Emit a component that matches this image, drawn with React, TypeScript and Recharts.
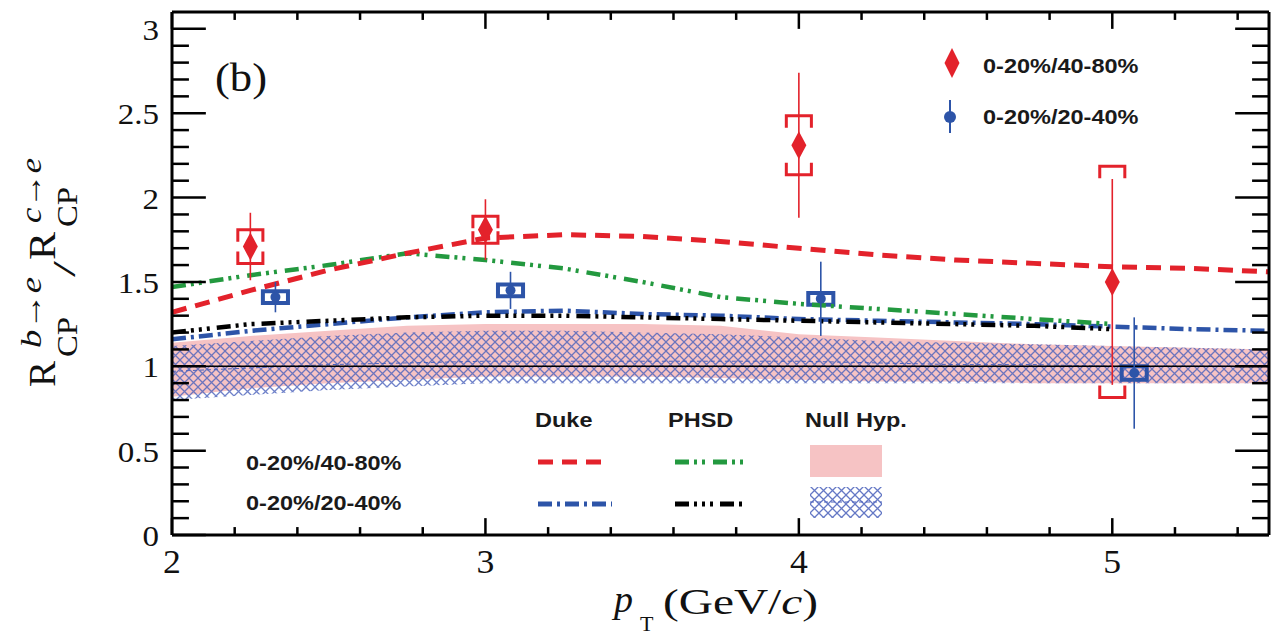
import React from "react";
import {
  Area,
  ComposedChart,
  ErrorBar,
  Line,
  ReferenceArea,
  ReferenceLine,
  Scatter,
  XAxis,
  YAxis,
} from "recharts";

const RED = "#e3222b";
const BLUE = "#2d54a8";
const GREEN = "#23993f";
const PINK = "#f6c3c4";
const HATCH = "#4a61bb";

const SERIF = '"Liberation Serif", "Times New Roman", serif';
const SANS = '"Liberation Sans", Arial, sans-serif';

// model curves, sampled on a common pT grid
const ptGrid = [2.0, 2.25, 2.5, 2.75, 3.0, 3.25, 3.5, 3.75, 4.0, 4.25, 4.5, 4.75, 5.0, 5.25, 5.5];
const duke4080 = [1.32, 1.45, 1.57, 1.67, 1.76, 1.78, 1.77, 1.74, 1.7, 1.66, 1.63, 1.61, 1.59, 1.58, 1.56];
const phsd4080 = [1.47, 1.54, 1.6, 1.67, 1.63, 1.58, 1.5, 1.41, 1.37, 1.34, 1.31, 1.28, 1.25, null, null];
const duke2040 = [1.16, 1.21, 1.25, 1.29, 1.32, 1.33, 1.31, 1.3, 1.28, 1.27, 1.26, 1.25, 1.235, 1.22, 1.21];
const phsd2040 = [1.2, 1.25, 1.27, 1.29, 1.3, 1.3, 1.29, 1.28, 1.27, 1.26, 1.25, 1.24, 1.22, null, null];

// null hypothesis bands
const null4080Lo = [0.82, 0.87, 0.9, 0.92, 0.94, 0.94, 0.94, 0.93, 0.92, 0.91, 0.91, 0.9, 0.9, 0.9, 0.9];
const null4080Hi = [1.14, 1.18, 1.21, 1.24, 1.25, 1.25, 1.25, 1.24, 1.19, 1.17, 1.15, 1.13, 1.12, 1.11, 1.1];
const null2040Lo = [0.8, 0.83, 0.86, 0.88, 0.9, 0.9, 0.9, 0.9, 0.9, 0.9, 0.9, 0.9, 0.9, 0.9, 0.9];
const null2040Hi = [1.12, 1.15, 1.18, 1.2, 1.21, 1.21, 1.2, 1.19, 1.17, 1.15, 1.14, 1.13, 1.12, 1.11, 1.1];
const null2040Mid = [0.97, 0.99, 1.01, 1.02, 1.03, 1.03, 1.03, 1.03, 1.03, 1.02, 1.01, 1.01, 1.0, 1.0, 1.0];

// measurements: 0-20%/40-80%
const pt4080 = [2.25, 3.0, 4.0, 5.0];
const r4080 = [1.71, 1.81, 2.31, 1.5];
const stat4080 = [0.2, 0.18, 0.43, 0.61];
const sys4080 = [0.1, 0.08, 0.175, 0.685];

// measurements: 0-20%/20-40%
const pt2040 = [2.33, 3.08, 4.07, 5.07];
const r2040 = [1.41, 1.45, 1.4, 0.96];
const stat2040 = [0.09, 0.11, 0.22, 0.33];
const sys2040 = [0.035, 0.035, 0.035, 0.04];

const xTicks = [2, 2.2, 2.4, 2.6, 2.8, 3, 3.2, 3.4, 3.6, 3.8, 4, 4.2, 4.4, 4.6, 4.8, 5, 5.2, 5.4];
const yTicks = [
  0, 0.1, 0.2, 0.3, 0.4, 0.5, 0.6, 0.7, 0.8, 0.9, 1, 1.1, 1.2, 1.3, 1.4, 1.5, 1.6, 1.7, 1.8, 1.9,
  2, 2.1, 2.2, 2.3, 2.4, 2.5, 2.6, 2.7, 2.8, 2.9, 3,
];

const X_MIN = 2;
const X_MAX = 5.5;
const Y_MIN = 0;
const Y_MAX = 3.1;

// inward tick lengths, in data units of the perpendicular axis
const X_TICK_MAJOR = 0.1;
const X_TICK_MINOR = 0.047;
const Y_TICK_MAJOR = 0.108;
const Y_TICK_MINOR = 0.054;

const SYS_HALF_WIDTH = 0.04;

const table = ptGrid.map((pt, i) => ({
  pt,
  duke4080: duke4080[i],
  phsd4080: phsd4080[i],
  duke2040: duke2040[i],
  phsd2040: phsd2040[i],
  null4080: [null4080Lo[i], null4080Hi[i]],
  null2040: [null2040Lo[i], null2040Hi[i]],
  null2040Mid: null2040Mid[i],
}));

const points4080 = pt4080.map((pt, i) => ({ pt, r: r4080[i], stat: stat4080[i], sys: sys4080[i] }));
const points2040 = pt2040.map((pt, i) => ({ pt, r: r2040[i], stat: stat2040[i], sys: sys2040[i] }));

const isMajorX = (v: number) => Math.abs(v - Math.round(v)) < 1e-6;
const isMajorY = (v: number) => Math.abs(v * 2 - Math.round(v * 2)) < 1e-6;

const XLabel = ({ x, y, payload }: any) =>
  isMajorX(payload.value) ? (
    <text
      transform={`translate(${x},${y + 38}) scale(1.05,1)`}
      textAnchor="middle"
      fontFamily={SERIF}
      fontSize={34}
      fill="#111"
    >
      {payload.value}
    </text>
  ) : (
    <g />
  );

const YLabel = ({ x, y, payload }: any) =>
  isMajorY(payload.value) ? (
    <text
      transform={`translate(${x - 13},${y + 11}) scale(1.1,1)`}
      textAnchor="end"
      fontFamily={SERIF}
      fontSize={30}
      fill="#111"
    >
      {payload.value}
    </text>
  ) : (
    <g />
  );

// systematic uncertainty drawn as open brackets above and below the point
const bracket = (color: string, sw: number) => (props: any) => {
  const { x, y, width, height } = props;
  const leg = Math.min(12, height / 2);
  const d =
    `M${x},${y + leg} L${x},${y} L${x + width},${y} L${x + width},${y + leg} ` +
    `M${x},${y + height - leg} L${x},${y + height} L${x + width},${y + height} L${x + width},${y + height - leg}`;
  return <path d={d} fill="none" stroke={color} strokeWidth={sw} />;
};

const Diamond = ({ cx, cy }: any) => (
  <polygon points={`${cx},${cy - 14} ${cx + 7.5},${cy} ${cx},${cy + 14} ${cx - 7.5},${cy}`} fill={RED} />
);

const Dot = ({ cx, cy }: any) => <circle cx={cx} cy={cy} r={5} fill={BLUE} />;

const Sans = ({ x, y, children }: any) => (
  <text
    transform={`translate(${x},${y}) scale(1.12,1)`}
    fontFamily={SANS}
    fontWeight="bold"
    fontSize={21}
    fill="#1a1a1a"
  >
    {children}
  </text>
);

function Overlay() {
  return (
    <svg
      width={1279}
      height={636}
      style={{ position: "absolute", left: 0, top: 0, pointerEvents: "none" }}
    >
      <defs>
        <pattern id="xhatch-key" width="9" height="9" patternUnits="userSpaceOnUse">
          <path d="M0,0 L9,9 M9,0 L0,9" stroke={HATCH} strokeWidth={1.3} opacity={0.85} />
        </pattern>
      </defs>

      <text x={215} y={91} fontFamily={SERIF} fontSize={40} textLength={52} lengthAdjust="spacingAndGlyphs" fill="#111">
        (b)
      </text>

      {/* marker legend */}
      <polygon points="952,48 959.5,63 952,78 944.5,63" fill={RED} />
      <Sans x={983} y={73}>0-20%/40-80%</Sans>
      <line x1={950} x2={950} y1={100} y2={133} stroke={BLUE} strokeWidth={2} />
      <circle cx={950} cy={117} r={6} fill={BLUE} />
      <Sans x={983} y={124}>0-20%/20-40%</Sans>

      {/* model legend */}
      <Sans x={535} y={427}>Duke</Sans>
      <Sans x={668} y={427}>PHSD</Sans>
      <Sans x={805} y={427}>Null Hyp.</Sans>
      <Sans x={246} y={470}>0-20%/40-80%</Sans>
      <Sans x={246} y={510}>0-20%/20-40%</Sans>
      <line x1={538} x2={602} y1={462} y2={462} stroke={RED} strokeWidth={5} strokeDasharray="15 9" />
      <line x1={675} x2={745} y1={462} y2={462} stroke={GREEN} strokeWidth={5} strokeDasharray="14 5 3 5 3 8" />
      <rect x={810} y={445} width={72} height={32} fill={PINK} />
      <line x1={538} x2={612} y1={504} y2={504} stroke={BLUE} strokeWidth={5} strokeDasharray="14 5 3 5" />
      <line x1={675} x2={745} y1={504} y2={504} stroke="#000" strokeWidth={5} strokeDasharray="14 5 3 5 3 5 3 7" />
      <rect x={810} y={487} width={72} height={31} fill="url(#xhatch-key)" />
      <line x1={810} x2={882} y1={502} y2={502} stroke={HATCH} strokeWidth={1} strokeDasharray="4 3" />

      {/* y title */}
      <g transform="translate(55,387) rotate(-90)" fontFamily={SERIF} fill="#111">
        <text x={0} y={0} fontSize={38} textLength={26} lengthAdjust="spacingAndGlyphs">R</text>
        <text x={30} y={22} fontSize={30} textLength={40} lengthAdjust="spacingAndGlyphs">CP</text>
        <text x={39} y={-14} fontSize={30} textLength={71} lengthAdjust="spacingAndGlyphs">
          <tspan fontStyle="italic">b</tspan>→<tspan fontStyle="italic">e</tspan>
        </text>
        <text x={110} y={20} fontSize={32} textLength={16} lengthAdjust="spacingAndGlyphs">/</text>
        <text x={127} y={0} fontSize={38} textLength={28} lengthAdjust="spacingAndGlyphs">R</text>
        <text x={160} y={22} fontSize={30} textLength={40} lengthAdjust="spacingAndGlyphs">CP</text>
        <text x={164} y={-14} fontSize={30} textLength={65} lengthAdjust="spacingAndGlyphs">
          <tspan fontStyle="italic">c</tspan>→<tspan fontStyle="italic">e</tspan>
        </text>
      </g>

      {/* x title */}
      <g fontFamily={SERIF} fill="#111">
        <text x={614} y={612} fontSize={38} fontStyle="italic">p</text>
        <text x={640} y={631} fontSize={22}>T</text>
        <text x={663} y={614} fontSize={36} textLength={155} lengthAdjust="spacingAndGlyphs">
          (GeV/<tspan fontStyle="italic">c</tspan>)
        </text>
      </g>
    </svg>
  );
}

export default function App() {
  return (
    <div style={{ position: "absolute", left: 0, top: 0, width: 1279, height: 636, background: "#fff" }}>
      <ComposedChart
        width={1279}
        height={636}
        data={table}
        margin={{ top: 12, right: 10, bottom: 0, left: 0 }}
      >
        <defs>
          <pattern id="xhatch" width="9" height="9" patternUnits="userSpaceOnUse">
            <path d="M0,0 L9,9 M9,0 L0,9" stroke={HATCH} strokeWidth={1.3} opacity={0.8} />
          </pattern>
        </defs>

        <XAxis
          dataKey="pt"
          type="number"
          domain={[X_MIN, X_MAX]}
          ticks={xTicks}
          interval={0}
          height={101}
          allowDataOverflow
          tickSize={0}
          tickMargin={0}
          tickLine={false}
          axisLine={false}
          tick={<XLabel />}
        />
        <YAxis
          type="number"
          domain={[Y_MIN, Y_MAX]}
          ticks={yTicks}
          interval={0}
          width={172}
          allowDataOverflow
          tickSize={0}
          tickMargin={0}
          tickLine={false}
          axisLine={false}
          tick={<YLabel />}
        />

        <Area dataKey="null4080" type="linear" stroke="none" fill={PINK} fillOpacity={1} isAnimationActive={false} />
        <Area dataKey="null2040" type="linear" stroke="none" fill="url(#xhatch)" fillOpacity={1} isAnimationActive={false} />
        <Line
          dataKey="null2040Mid"
          type="linear"
          stroke={HATCH}
          strokeWidth={1}
          strokeDasharray="4 3"
          dot={false}
          isAnimationActive={false}
        />
        <ReferenceLine y={1} stroke="#000" strokeWidth={1.5} />

        <Line dataKey="duke2040" type="linear" stroke={BLUE} strokeWidth={4.5} strokeDasharray="14 5 3 5" dot={false} isAnimationActive={false} />
        <Line dataKey="phsd2040" type="linear" stroke="#000" strokeWidth={4.5} strokeDasharray="14 5 3 5 3 5 3 7" dot={false} isAnimationActive={false} />
        <Line dataKey="phsd4080" type="linear" stroke={GREEN} strokeWidth={4.5} strokeDasharray="14 5 3 5 3 8" dot={false} isAnimationActive={false} />
        <Line dataKey="duke4080" type="linear" stroke={RED} strokeWidth={5} strokeDasharray="15 9" dot={false} isAnimationActive={false} />

        {points4080.map((p) => (
          <ReferenceArea
            key={`s4080-${p.pt}`}
            x1={p.pt - SYS_HALF_WIDTH}
            x2={p.pt + SYS_HALF_WIDTH}
            y1={p.r - p.sys}
            y2={p.r + p.sys}
            ifOverflow="visible"
            shape={bracket(RED, 3)}
          />
        ))}
        {points2040.map((p) => (
          <ReferenceArea
            key={`s2040-${p.pt}`}
            x1={p.pt - SYS_HALF_WIDTH}
            x2={p.pt + SYS_HALF_WIDTH}
            y1={p.r - p.sys}
            y2={p.r + p.sys}
            ifOverflow="visible"
            shape={bracket(BLUE, 4)}
          />
        ))}

        <Scatter data={points4080} dataKey="r" shape={<Diamond />} isAnimationActive={false}>
          <ErrorBar dataKey="stat" direction="y" width={0} stroke={RED} strokeWidth={1.6} />
        </Scatter>
        <Scatter data={points2040} dataKey="r" shape={<Dot />} isAnimationActive={false}>
          <ErrorBar dataKey="stat" direction="y" width={0} stroke={BLUE} strokeWidth={1.6} />
        </Scatter>

        {/* frame with inward ticks on all four sides */}
        {xTicks.map((v) => (
          <ReferenceLine
            key={`xb-${v}`}
            segment={[{ x: v, y: Y_MIN }, { x: v, y: Y_MIN + (isMajorX(v) ? X_TICK_MAJOR : X_TICK_MINOR) }]}
            stroke="#000"
            strokeWidth={2.5}
          />
        ))}
        {xTicks.map((v) => (
          <ReferenceLine
            key={`xt-${v}`}
            segment={[{ x: v, y: Y_MAX }, { x: v, y: Y_MAX - (isMajorX(v) ? X_TICK_MAJOR : X_TICK_MINOR) }]}
            stroke="#000"
            strokeWidth={2.5}
          />
        ))}
        {yTicks.map((v) => (
          <ReferenceLine
            key={`yl-${v}`}
            segment={[{ x: X_MIN, y: v }, { x: X_MIN + (isMajorY(v) ? Y_TICK_MAJOR : Y_TICK_MINOR), y: v }]}
            stroke="#000"
            strokeWidth={2.5}
          />
        ))}
        {yTicks.map((v) => (
          <ReferenceLine
            key={`yr-${v}`}
            segment={[{ x: X_MAX, y: v }, { x: X_MAX - (isMajorY(v) ? Y_TICK_MAJOR : Y_TICK_MINOR), y: v }]}
            stroke="#000"
            strokeWidth={2.5}
          />
        ))}
        <ReferenceLine x={X_MIN} stroke="#000" strokeWidth={3} />
        <ReferenceLine x={X_MAX} stroke="#000" strokeWidth={3} />
        <ReferenceLine y={Y_MIN} stroke="#000" strokeWidth={3} />
        <ReferenceLine y={Y_MAX} stroke="#000" strokeWidth={3} />
      </ComposedChart>
      <Overlay />
    </div>
  );
}
